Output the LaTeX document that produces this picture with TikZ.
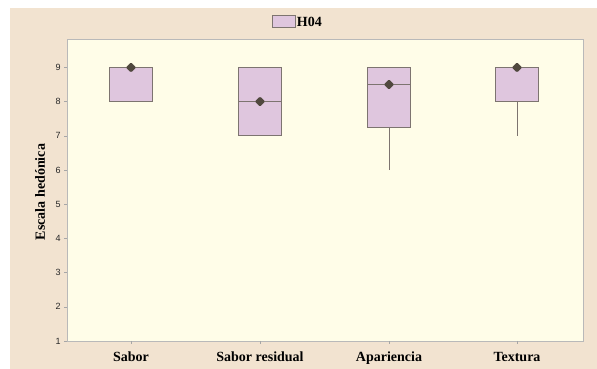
\documentclass[tikz,border=0pt]{standalone}
\usepackage{fontspec}
\setmainfont{Liberation Serif}
\newfontfamily\ticksf{Liberation Sans}
\usetikzlibrary{shapes.geometric}
\definecolor{bgtan}{RGB}{242,227,208}
\definecolor{plotbg}{RGB}{255,253,232}
\definecolor{boxfill}{RGB}{223,198,222}
\definecolor{boxline}{RGB}{125,116,112}
\definecolor{meandot}{RGB}{80,72,62}
\tikzset{every picture/.style={line width=0.75pt}}
\tikzset{
  hbox/.style={draw=boxline, fill=boxfill, line width=0.9pt},
  whisk/.style={draw=boxline, line width=0.9pt},
  meanmark/.style={diamond, fill=meandot, draw=meandot, rounded corners=1pt, inner sep=0pt, minimum size=9.5pt},
  boldlabel/.style={font=\bfseries\fontsize{14}{16}\selectfont},
  ticklabel/.style={font=\ticksf\fontsize{9}{10}\selectfont, anchor=east, inner sep=0pt, text=black!85}
}

\begin{document}
\begin{tikzpicture}[x=1pt, y=1pt]
	\useasboundingbox (0,0) rectangle (597,369);
	\fill[bgtan] (10,0) rectangle (597,361);
	\draw[gray!55, fill=plotbg, line width=0.6pt] (67,28) rectangle (583,330);
	%
	\begin{scope}[y=34.2pt, shift={(0pt,-6.2pt)}]
		\foreach \v in {1,...,9}{
			\draw[gray!70, line width=0.5pt] (64,\v) -- (67,\v);
			\node[ticklabel] (tick\v) at (61,\v) {\v};
		}
		%
		\draw[hbox] (109.5,8) rectangle (152.5,9);
		\node[meanmark] (meanS) at (131,9) {};
		%
		\draw[hbox] (238.5,7) rectangle (281.5,9);
		\draw[whisk] (238.5,8) -- (281.5,8);
		\node[meanmark] (meanSR) at (260,8) {};
		%
		\draw[whisk] (389,6) -- (389,7.25);
		\draw[hbox] (367.5,7.25) rectangle (410.5,9);
		\draw[whisk] (367.5,8.5) -- (410.5,8.5);
		\node[meanmark] (meanA) at (389,8.5) {};
		%
		\draw[whisk] (517,7) -- (517,8);
		\draw[hbox] (495.5,8) rectangle (538.5,9);
		\node[meanmark] (meanT) at (517,9) {};
	\end{scope}
	%
	\draw[gray!70, line width=0.5pt] (131,28) -- (131,25);
	\draw[gray!70, line width=0.5pt] (260,28) -- (260,25);
	\draw[gray!70, line width=0.5pt] (389,28) -- (389,25);
	\draw[gray!70, line width=0.5pt] (517,28) -- (517,25);
	\node[boldlabel, anchor=base] (catS) at (131,7) {Sabor};
	\node[boldlabel, anchor=base] (catSR) at (260,7) {Sabor residual};
	\node[boldlabel, anchor=base] (catA) at (389,7) {Apariencia};
	\node[boldlabel, anchor=base] (catT) at (517,7) {Textura};
	%
	\node[boldlabel, rotate=90] (ylab) at (40,177) {Escala hedónica};
	%
	\draw[hbox] (272,341.7) rectangle (295,353.3);
	\node[boldlabel, anchor=west, inner sep=1pt] (legH) at (295.5,347.5) {H04};
\end{tikzpicture}
\end{document}
